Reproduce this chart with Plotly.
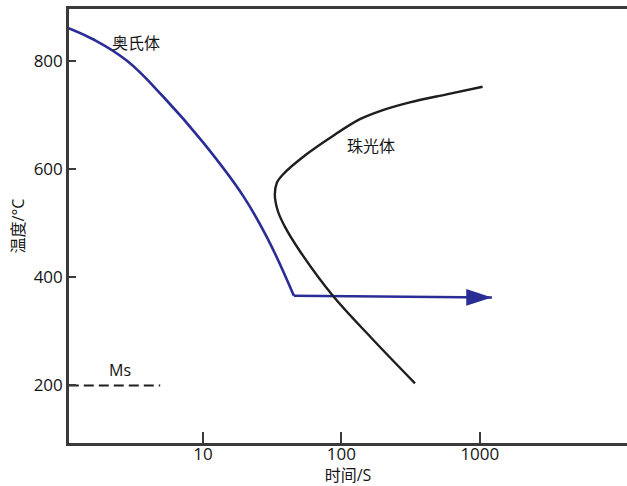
import numpy as np
import plotly.graph_objects as go

# ---- data ----
cool_t = [1.057, 1.602, 2.79, 5.14, 10.0, 19.47, 29.4, 45.3]
cool_T = [862, 841, 802, 735, 650, 551, 471, 366]
hold_t = [45.3, 1223]
hold_T = [366, 363]

pearl_t = [1047, 576, 312, 190, 136, 86.7, 55.9, 37.9, 34.1, 33.0, 34.7, 39.0, 50.0, 86.7, 166, 340]
pearl_T = [753, 739, 724, 708, 693, 662, 628, 591, 575, 553, 523, 494, 449, 366, 287, 204]

ms_t = [1.07, 4.9]
ms_T = [200, 200]

x_ticks = [10, 100, 1000]
x_ticklabels = ["10", "100", "1000"]
y_ticks = [200, 400, 600, 800]
y_ticklabels = ["200", "400", "600", "800"]

labels = ["奥氏体", "珠光体", "Ms"]
label_t = [3.26, 163, 2.5]
label_T = [834, 644, 228]

x_range = [1.074, 11580]
y_range = [93.5, 897]

BLUE = "#2b2d96"
DARK = "#1e1e1e"
AXIS = "#3a3a3a"
TXT = "#151515"
FONT = "Open Sans, Noto Sans CJK SC, sans-serif"

fig = go.Figure()
fig.add_trace(go.Scatter(x=cool_t, y=cool_T, mode="lines",
                         line=dict(color=BLUE, width=2.6, shape="spline", smoothing=1.2),
                         showlegend=False, hoverinfo="skip"))
fig.add_trace(go.Scatter(x=hold_t, y=hold_T, mode="lines",
                         line=dict(color=BLUE, width=2.6),
                         showlegend=False, hoverinfo="skip"))
fig.add_trace(go.Scatter(x=[hold_t[-1]], y=[hold_T[-1]], mode="markers",
                         marker=dict(symbol="arrow", angle=90, size=27, color=BLUE,
                                     line=dict(width=0)),
                         showlegend=False, hoverinfo="skip"))
fig.add_trace(go.Scatter(x=pearl_t, y=pearl_T, mode="lines",
                         line=dict(color=DARK, width=2.4, shape="spline", smoothing=1.0),
                         showlegend=False, hoverinfo="skip"))
fig.add_trace(go.Scatter(x=ms_t, y=ms_T, mode="lines",
                         line=dict(color=DARK, width=2.2, dash="10px,5px"),
                         showlegend=False, hoverinfo="skip"))

for txt, tx, ty in zip(labels, label_t, label_T):
    fig.add_annotation(x=np.log10(tx), y=ty, text=txt, showarrow=False,
                       font=dict(family=FONT, size=16, color=TXT))

fig.update_xaxes(type="log", range=[np.log10(x_range[0]), np.log10(x_range[1])],
                 tickvals=x_ticks, ticktext=x_ticklabels,
                 ticks="inside", ticklen=11, tickwidth=2, tickcolor=AXIS,
                 ticklabelstandoff=-6,
                 showline=True, linecolor=AXIS, linewidth=2.6, mirror=True,
                 showgrid=False, zeroline=False,
                 tickfont=dict(family=FONT, size=17, color=TXT),
                 title=dict(text="时间/S", font=dict(family=FONT, size=16, color=TXT),
                            standoff=10))
fig.update_yaxes(range=y_range, tickvals=y_ticks, ticktext=y_ticklabels,
                 ticks="inside", ticklen=7, tickwidth=2, tickcolor=AXIS,
                 showline=True, linecolor=AXIS, linewidth=2.6,
                 showgrid=False, zeroline=False,
                 tickfont=dict(family=FONT, size=17, color=TXT),
                 title=dict(text="温度/°C", font=dict(family=FONT, size=16, color=TXT),
                            standoff=6))

fig.update_layout(width=627, height=486, margin=dict(l=69, r=0, t=9, b=41),
                  paper_bgcolor="white", plot_bgcolor="white",
                  font=dict(family=FONT))
fig.write_html("out.html", config={"displayModeBar": False},
               post_script="document.body.style.margin='0px';document.body.style.overflow='hidden';")
